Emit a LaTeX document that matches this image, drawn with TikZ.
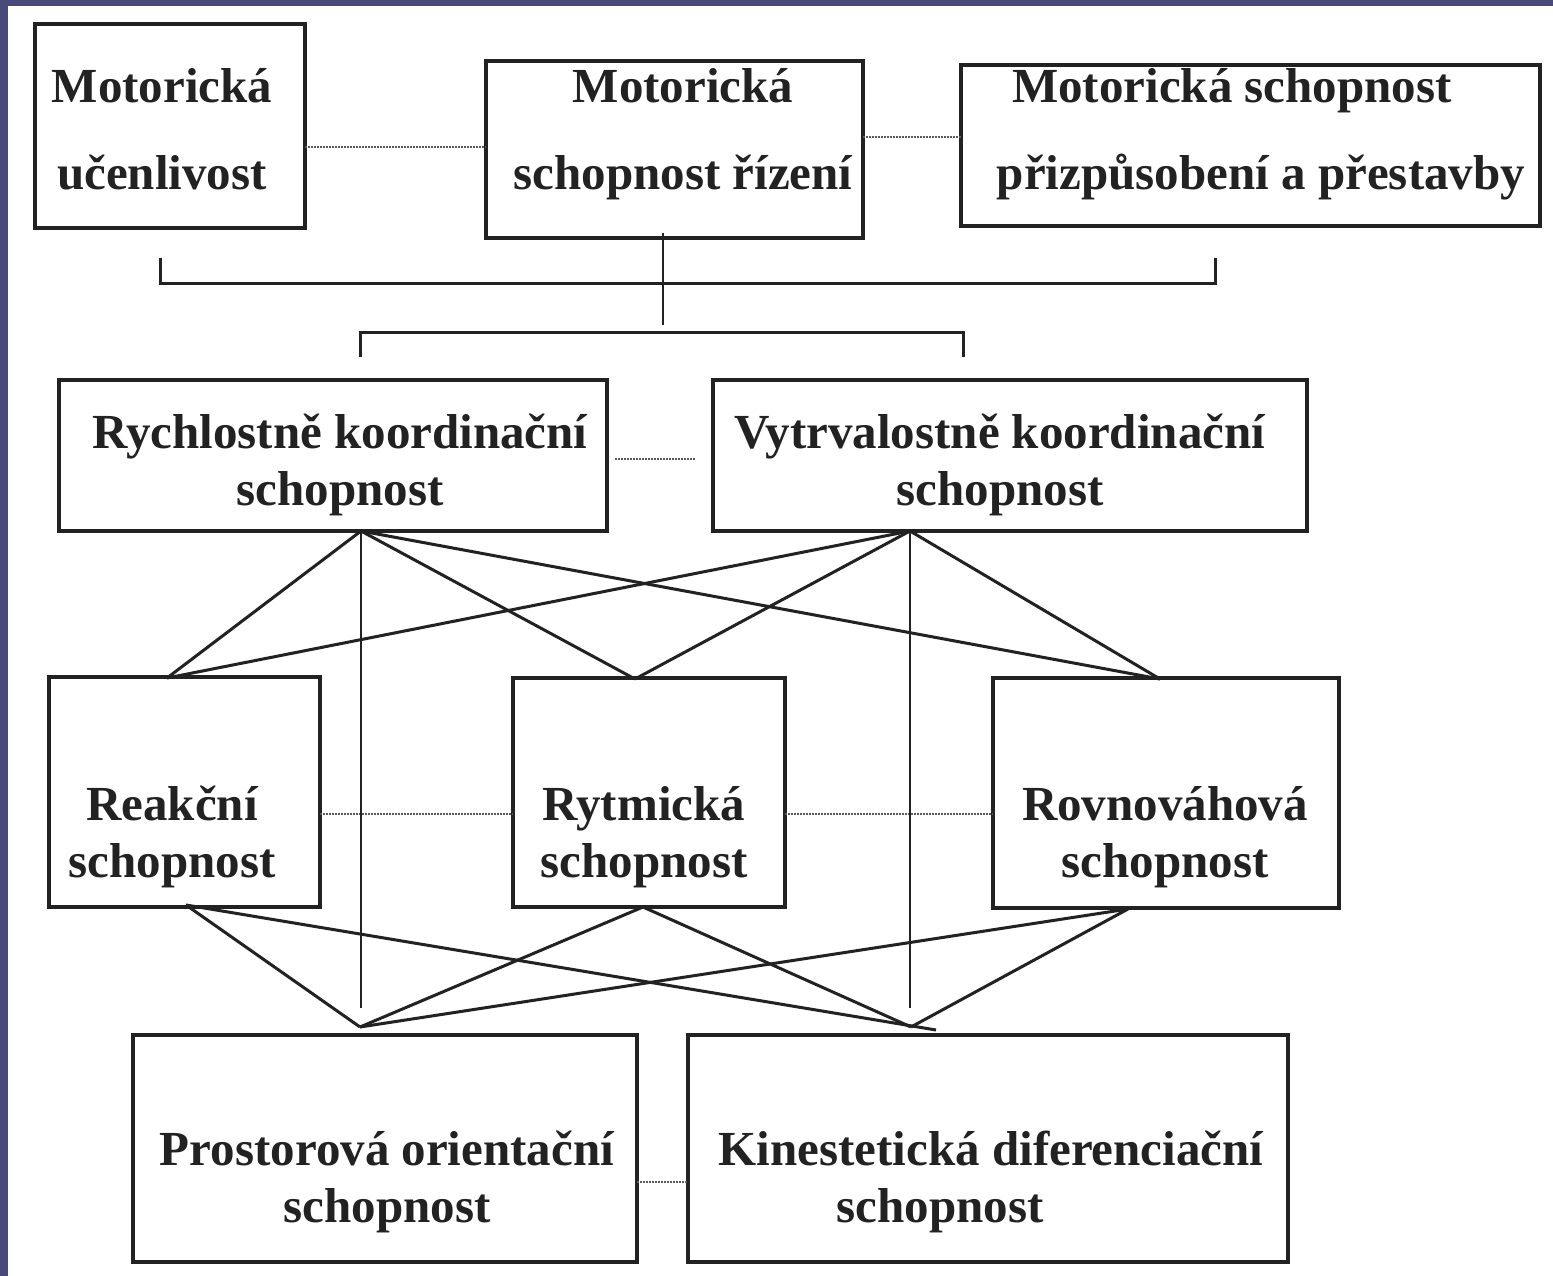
\documentclass[tikz,border=0pt]{standalone}
\usepackage{fontspec}
\setmainfont{Liberation Serif}
\definecolor{slate}{RGB}{74,74,122}
\definecolor{ink}{RGB}{34,34,34}
\begin{document}
\begin{tikzpicture}[x=1pt,y=-1pt,
box/.style={draw=ink,line width=3.2pt,inner sep=0pt,outer sep=0pt},
txt/.style={text=ink,font=\bfseries\fontsize{49}{57}\selectfont,align=center,anchor=base,inner sep=0pt},
link/.style={draw=ink,line width=3pt},
stem/.style={draw=ink,line width=2.3pt},
dotline/.style={draw=ink!75,line width=1.5pt,dash pattern=on 1.5pt off 1.5pt}]
\fill[slate](0,0)rectangle(1553,1276);
\fill[white](8,6)rectangle(1553,1276);
\useasboundingbox(0,0)rectangle(1553,1276);
\node[box,minimum width=270pt,minimum height=204pt](ucen)at(170,126){};
\node[box,minimum width=377pt,minimum height=177pt](riz)at(674.5,149.5){};
\node[box,minimum width=579pt,minimum height=161pt](priz)at(1250.5,145.5){};
\node[box,minimum width=548pt,minimum height=151pt](rych)at(333,455.5){};
\node[box,minimum width=594pt,minimum height=151pt](vytr)at(1010,455.5){};
\node[box,minimum width=271pt,minimum height=230pt](reak)at(184.5,792){};
\node[box,minimum width=272pt,minimum height=229pt](rytm)at(649,792.5){};
\node[box,minimum width=346pt,minimum height=230pt](rovn)at(1166,793){};
\node[box,minimum width=504pt,minimum height=227pt](pros)at(385,1148.5){};
\node[box,minimum width=600pt,minimum height=227pt](kine)at(988,1148.5){};
\node[txt](ucenT)at(162,190){Motorická\\[30pt]učenlivost};
\node[txt](rizT)at(683,190){Motorická\\[30pt]schopnost řízení};
\node[txt](prizT)at(1261,190){Motorická schopnost\hspace*{58pt}\\[30pt]přizpůsobení a přestavby};
\node[txt](rychT)at(340,505){Rychlostně koordinační\\schopnost};
\node[txt](vytrT)at(1000,505){Vytrvalostně koordinační\\schopnost};
\node[txt](reakT)at(172,877){Reakční\\schopnost};
\node[txt](rytmT)at(644,877){Rytmická\\schopnost};
\node[txt](rovnT)at(1165,877){Rovnováhová\\schopnost};
\node[txt](prosT)at(387,1222){Prostorová orientační\\schopnost};
\node[txt](kineT)at(991,1222){Kinestetická diferenciační\\schopnost\hspace*{102pt}};
\coordinate(dotA)at(0,147);
\coordinate(dotB)at(0,137);
\coordinate(dotL)at(615,459);
\coordinate(dotR)at(695,459);
\coordinate(dotC)at(0,814);
\coordinate(dotD)at(0,1182);
\draw[dotline](ucen.east|-dotA)--(riz.west|-dotA);
\draw[dotline](riz.east|-dotB)--(priz.west|-dotB);
\draw[dotline](dotL)--(dotR);
\draw[dotline](reak.east|-dotC)--(rytm.west|-dotC);
\draw[dotline](rytm.east|-dotC)--(rovn.west|-dotC);
\draw[dotline](pros.east|-dotD)--(kine.west|-dotD);
\coordinate(stemA)at(663,233);
\coordinate(stemB)at(663,325);
\draw[stem](stemA)--(stemB);
\draw[link](160,258)|-(1215,283)--(1215,258);
\draw[link](360,357)|-(963,332)--(963,357);
\coordinate(rychHub)at(361,531);
\coordinate(vytrHub)at(910,531);
\coordinate(reakTop)at(167,678);
\coordinate(rytmTop)at(635,679);
\coordinate(rovnTop)at(1160,679);
\coordinate(reakBot)at(186,905);
\coordinate(rytmBot)at(643,907);
\coordinate(rovnBot)at(1128,909);
\coordinate(prosHub)at(360,1027);
\coordinate(kineHub)at(911,1027);
\coordinate(kineOver)at(936,1030);
\coordinate(vEnd)at(0,1008);
\draw[link](rychHub)--(reakTop);
\draw[link](rychHub)--(rytmTop);
\draw[link](rychHub)--(rovnTop);
\draw[link](vytrHub)--(reakTop);
\draw[link](vytrHub)--(rytmTop);
\draw[link](vytrHub)--(rovnTop);
\draw[stem](rychHub)--(rychHub|-vEnd);
\draw[stem](vytrHub)--(vytrHub|-vEnd);
\draw[link](reakBot)--(prosHub);
\draw[link](reakBot)--(kineOver);
\draw[link](rytmBot)--(prosHub);
\draw[link](rytmBot)--(kineHub);
\draw[link](rovnBot)--(prosHub);
\draw[link](rovnBot)--(kineHub);
\end{tikzpicture}
\end{document}
